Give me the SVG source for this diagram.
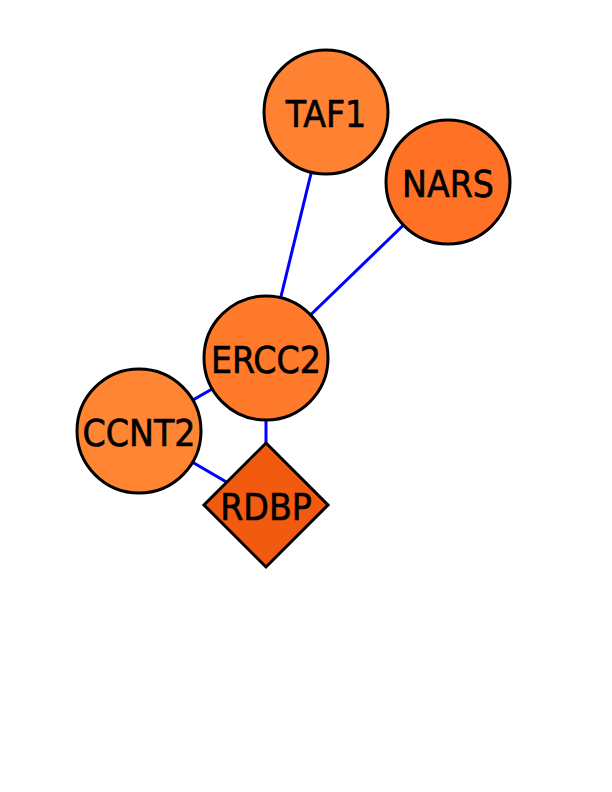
<svg xmlns="http://www.w3.org/2000/svg" width="612" height="792" viewBox="0 0 612 792">
<style>
.e{stroke:#0000FF;stroke-width:3;fill:none}
.n{stroke:#000;stroke-width:3}
.t{font-family:"DejaVu Sans Condensed","DejaVu Sans",sans-serif;font-size:37px;fill:#000;stroke:#000;stroke-width:0.6;text-anchor:middle;dominant-baseline:central}
</style>
<rect width="612" height="792" fill="#fff"/>
<g id="edges">
<line class="e" x1="326" y1="112" x2="266" y2="358"/>
<line class="e" x1="448" y1="182" x2="266" y2="358"/>
<line class="e" x1="266" y1="358" x2="139" y2="431"/>
<line class="e" x1="266" y1="358" x2="266" y2="505"/>
<line class="e" x1="139" y1="431" x2="266" y2="505"/>
</g>
<g id="TAF1"><circle class="n" cx="326" cy="112" r="62" fill="#FF8232"/><text class="t" x="326" y="114">TAF1</text></g>
<g id="NARS"><circle class="n" cx="448" cy="182" r="62" fill="#FF7226"/><text class="t" x="448" y="184">NARS</text></g>
<g id="ERCC2"><circle class="n" cx="266" cy="358" r="62" fill="#FF7A2A"/><text class="t" x="266" y="360">ERCC2</text></g>
<g id="CCNT2"><circle class="n" cx="139" cy="431" r="62" fill="#FF8533"/><text class="t" x="139" y="433">CCNT2</text></g>
<g id="RDBP"><polygon class="n" points="266,443 328,505 266,567 204,505" fill="#F25A0F"/><text class="t" x="266" y="507">RDBP</text></g>
</svg>
